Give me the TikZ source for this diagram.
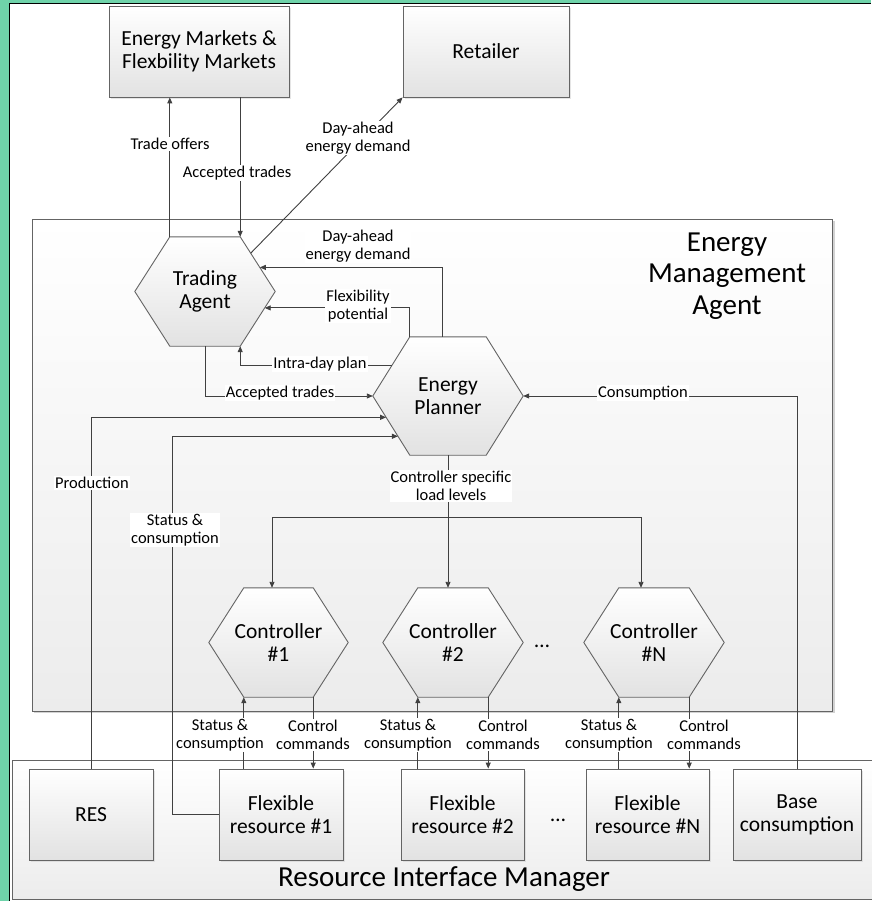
\documentclass[tikz,border=0pt]{standalone}
\usepackage{fontspec}
\setmainfont{Carlito}
\usetikzlibrary{arrows.meta,calc,shadows}

\definecolor{framegreen}{RGB}{111,211,170}
\definecolor{wire}{RGB}{64,64,64}
\definecolor{edgegray}{RGB}{100,100,100}
\definecolor{shadegray}{RGB}{226,226,226}
\definecolor{panelgray}{RGB}{236,236,236}

\pgfdeclarelayer{panels}
\pgfdeclarelayer{hexes}
\pgfsetlayers{panels,hexes,main}

\tikzset{
  bigtxt/.style={font=\fontsize{21.5}{23}\selectfont, align=center},
  hugetxt/.style={font=\fontsize{29}{31.5}\selectfont, align=center},
  lbl/.style={font=\fontsize{16.5}{18}\selectfont, align=center, fill=white, inner sep=1pt},
  blockbox/.style={bigtxt, draw=edgegray, line width=0.9pt, top color=white, bottom color=shadegray,
    minimum height=91pt, inner sep=0pt,
    drop shadow={shadow xshift=2pt, shadow yshift=-2pt, fill=gray!40}},
  hexfill/.style={draw=edgegray, line width=0.9pt, top color=white, bottom color=shadegray},
  conn/.style={draw=wire, line width=0.9pt},
  arr/.style={conn, -{Triangle[length=6pt,width=5pt]}},
}

% hexagon node: name, x, y, width, height, corner inset, text
\newcommand\hexnode[7]{%
  \node[bigtxt, minimum width=#4pt, minimum height=#5pt, inner sep=0pt] (#1) at (#2,#3) {#7};
  \coordinate (#1-w) at (#1.west);
  \coordinate (#1-nw) at ($(#1.north west)+(#6,0)$);
  \coordinate (#1-ne) at ($(#1.north east)+(-#6,0)$);
  \coordinate (#1-e) at (#1.east);
  \coordinate (#1-se) at ($(#1.south east)+(-#6,0)$);
  \coordinate (#1-sw) at ($(#1.south west)+(#6,0)$);
  \begin{pgfonlayer}{hexes}
    \path[hexfill] (#1-w) -- (#1-nw) -- (#1-ne) -- (#1-e) -- (#1-se) -- (#1-sw) -- cycle;
  \end{pgfonlayer}
}

\begin{document}
\begin{tikzpicture}[x=1pt, y=-1pt]
\useasboundingbox (0,0) rectangle (871,901);
\clip (0,0) rectangle (871,901);

% frame and panels
\begin{pgfonlayer}{panels}
  \fill[framegreen] (0,0) rectangle (871,901);
  \fill[white] (10,4) rectangle (871,901);
  \draw[black, line width=1.6pt] (9.5,901) -- (9.5,3.5) -- (871,3.5);
  % Energy Management Agent panel
  \fill[gray!35] (34,221) rectangle (835,713);
  \path[draw=edgegray, line width=0.9pt, top color=white, bottom color=panelgray] (32,219) rectangle (832,711);
  % Resource Interface Manager panel
  \path[draw=edgegray, line width=0.9pt, top color=white, bottom color=panelgray] (12,760) rectangle (880,899);
\end{pgfonlayer}

\node[hugetxt] (ema) at (727,276) {Energy\\Management\\Agent};
\node[hugetxt] (rim) at (444,879) {Resource Interface Manager};

% outside parties
\node[blockbox, minimum width=180pt] (em) at (199,51.5) {Energy Markets \&\\Flexbility Markets};
\node[blockbox, minimum width=166pt] (ret) at (486,51.5) {Retailer};

% agents
\hexnode{ta}{205}{291.5}{140}{109}{35}{Trading\\Agent}
\hexnode{ep}{448}{396}{150}{118}{37}{Energy\\Planner}
\hexnode{c1}{278.5}{642.5}{139}{109}{35}{Controller\\\#1}
\hexnode{c2}{453}{642.5}{140}{109}{35}{Controller\\\#2}
\hexnode{cN}{654}{642.5}{140}{109}{35}{Controller\\\#N}
\node[bigtxt, anchor=base] (dotsc) at (542,647) {…};

% resources
\node[blockbox, minimum width=124pt] (res) at (91,814.5) {RES};
\node[blockbox, minimum width=124pt] (fr1) at (281,814.5) {Flexible\\resource \#1};
\node[blockbox, minimum width=123pt] (fr2) at (462.5,814.5) {Flexible\\resource \#2};
\node[blockbox, minimum width=123pt] (frN) at (647.5,814.5) {Flexible\\resource \#N};
\node[blockbox, minimum width=128pt] (bc) at (797,814.5) {Base\\consumption};
\node[bigtxt, anchor=base] (dotsr) at (558,821) {…};

% market and retailer links
\draw[arr] (ta-nw) -- (ta-nw |- em.south);
\draw[arr] (em.south -| ta-ne) -- (ta-ne);
\draw[arr] ($(ta-ne)!0.3!(ta-e)$) -- (ret.south west);

% planner to trading agent
\draw[arr] ($(ep-nw)!0.43!(ep-ne)$) |- ($(ta-ne)!0.56!(ta-e)$);
\draw[arr] (ep-nw) |- ($(ta-e)!0.3!(ta-se)$);
\draw[arr] ($(ep-w)!0.51!(ep-nw)$) -| (ta-se);
\draw[arr] (ta.south) |- (ep-w);

% measurements into the planner
\draw[arr] (res.north) |- ($(ep-w)!0.36!(ep-sw)$);
\draw[arr] (fr1.west) -- ++(-46,0) |- ($(ep-w)!0.68!(ep-sw)$);
\draw[arr] (bc.north) |- (ep-e);

% planner to controllers
\coordinate (busL) at (272,517);
\coordinate (busR) at (641,517);
\draw[arr] (ep.south) -- (ep.south |- c2.north);
\draw[conn] (busL) -- (busR);
\draw[arr] (busL) -- (busL |- c1.north);
\draw[arr] (busR) -- (busR |- cN.north);

% controllers and resources
\draw[arr] (fr1.north -| c1-sw) -- (c1-sw);
\draw[arr] (c1-se) -- (c1-se |- fr1.north);
\draw[arr] (fr2.north -| c2-sw) -- (c2-sw);
\draw[arr] (c2-se) -- (c2-se |- fr2.north);
\draw[arr] (frN.north -| cN-sw) -- (cN-sw);
\draw[arr] (cN-se) -- (cN-se |- frN.north);

% connector labels
\node[lbl] (l-to) at (170,144) {Trade offers};
\node[lbl] (l-at) at (237,173) {Accepted trades};
\node[lbl] (l-dr) at (358,138) {Day-ahead\\energy demand};
\node[lbl] (l-dt) at (358,246) {Day-ahead\\energy demand};
\node[lbl] (l-fp) at (358,306) {Flexibility\\potential};
\node[lbl] (l-id) at (320,364) {Intra-day plan};
\node[lbl] (l-at2) at (280,393) {Accepted trades};
\node[lbl] (l-pr) at (92,483) {Production};
\node[lbl] (l-sc) at (175,530) {Status \&\\consumption};
\node[lbl] (l-co) at (643,393) {Consumption};
\node[lbl] (l-cl) at (451,486) {Controller specific\\load levels};
\node[lbl] (l-s1) at (220,735) {Status \&\\consumption};
\node[lbl] (l-k1) at (313,735) {Control\\commands};
\node[lbl] (l-s2) at (408,735) {Status \&\\consumption};
\node[lbl] (l-k2) at (503,735) {Control\\commands};
\node[lbl] (l-sN) at (609,735) {Status \&\\consumption};
\node[lbl] (l-kN) at (704,735) {Control\\commands};
\end{tikzpicture}
\end{document}
